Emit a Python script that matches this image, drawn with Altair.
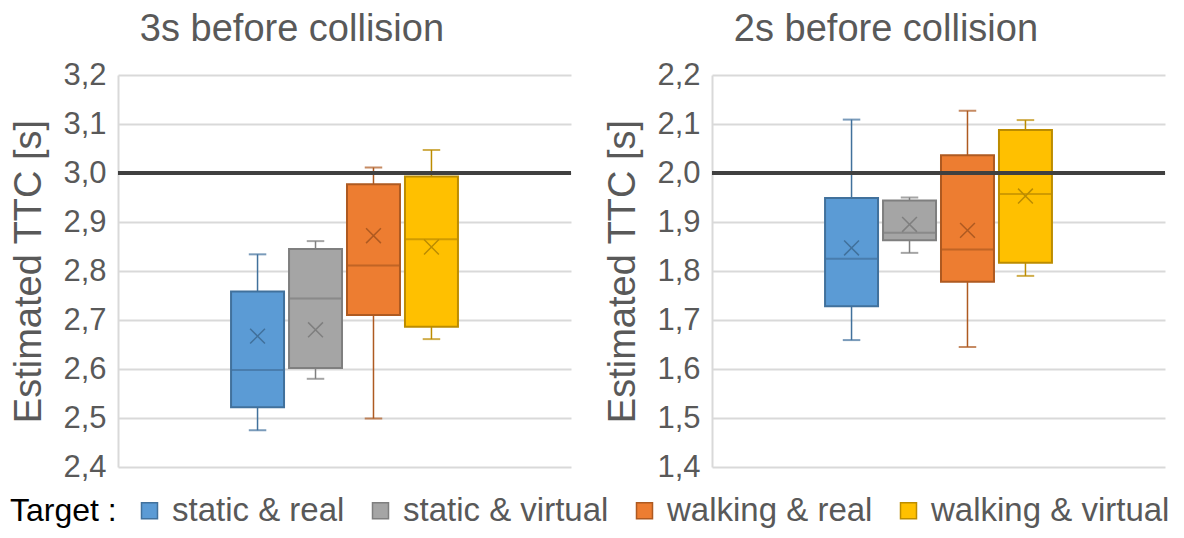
import altair as alt
import pandas as pd

targets = ["static & real", "static & virtual", "walking & real", "walking & virtual"]
slots = ["pad-left"] + targets + ["pad-right"]
fills = ["#5B9BD5", "#A5A5A5", "#ED7D31", "#FFC000"]
edges = ["#41719C", "#7F7F7F", "#AE5A21", "#BC8C00"]

# 3 s before collision
low_3 = [2.475, 2.580, 2.499, 2.661]
q1_3 = [2.522, 2.602, 2.710, 2.686]
med_3 = [2.598, 2.744, 2.811, 2.865]
q3_3 = [2.758, 2.845, 2.977, 2.993]
high_3 = [2.834, 2.861, 3.011, 3.047]
mean_3 = [2.667, 2.680, 2.872, 2.849]
ref_3 = 3.0
ticks_3 = [2.4, 2.5, 2.6, 2.7, 2.8, 2.9, 3.0, 3.1, 3.2]

# 2 s before collision
low_2 = [1.659, 1.837, 1.645, 1.790]
q1_2 = [1.728, 1.863, 1.778, 1.817]
med_2 = [1.825, 1.878, 1.844, 1.957]
q3_2 = [1.949, 1.944, 2.036, 2.088]
high_2 = [2.109, 1.950, 2.127, 2.108]
mean_2 = [1.847, 1.895, 1.883, 1.953]
ref_2 = 2.0
ticks_2 = [1.4, 1.5, 1.6, 1.7, 1.8, 1.9, 2.0, 2.1, 2.2]

FONT = "Liberation Sans"
TXT = "#595959"
W, H = 453, 392

legend = alt.Legend(
    title="Target :", orient="none", legendX=-108, legendY=419, padding=0,
    direction="horizontal", titleOrient="left", titleFont=FONT,
    titleFontSize=32, titleFontWeight="normal", titleColor="#000000",
    titlePadding=16, labelFont=FONT, labelFontSize=33, labelColor=TXT,
    labelLimit=400, symbolType="square", symbolSize=256, symbolOpacity=1,
    symbolStrokeWidth=1.5, columnPadding=19, labelOffset=6,
)

XSHAPE = "M-1,-1L1,1M-1,1L1,-1"


def panel(title, low, q1, med, q3, high, mean, ref, ticks):
    df = pd.DataFrame({"target": targets, "low": low, "q1": q1, "med": med,
                       "q3": q3, "high": high, "mean": mean})
    x = alt.X("target:N", sort=targets,
              scale=alt.Scale(domain=slots, paddingInner=0.086, paddingOuter=0.95),
              axis=None)
    yscale = alt.Scale(domain=[ticks[0], ticks[-1]], nice=False, zero=False)
    yaxis = alt.Axis(
        values=ticks, labelExpr="replace(format(datum.value, '.1f'), '.', ',')",
        title="Estimated TTC [s]", titleFont=FONT, titleFontSize=38,
        titleFontWeight="normal", titleColor=TXT, titlePadding=14,
        labelFont=FONT, labelFontSize=31, labelColor=TXT, labelPadding=12,
        ticks=False, domain=True, domainColor="#D9D9D9", domainWidth=2,
        grid=True, gridColor="#D9D9D9", gridWidth=2,
    )
    fill = alt.Fill("target:N", scale=alt.Scale(domain=targets, range=fills), legend=legend)
    stroke = alt.Stroke("target:N", scale=alt.Scale(domain=targets, range=edges), legend=legend)

    base = alt.Chart(df).encode(x=x)
    whisk = base.mark_rule(strokeWidth=1.5).encode(
        y=alt.Y("low:Q", scale=yscale, axis=yaxis), y2="high:Q", stroke=stroke)
    cap_lo = base.mark_tick(size=16, thickness=0.5, filled=False, strokeWidth=1.5).encode(
        y="low:Q", stroke=stroke)
    cap_hi = base.mark_tick(size=16, thickness=0.5, filled=False, strokeWidth=1.5).encode(
        y="high:Q", stroke=stroke)
    box = base.mark_bar(strokeWidth=2, opacity=1).encode(
        y="q1:Q", y2="q3:Q", fill=fill, stroke=stroke)
    median = base.mark_tick(size=51, thickness=0.5, filled=False, strokeWidth=1.5).encode(
        y="med:Q", stroke=stroke)
    mean_pt = base.mark_point(shape=XSHAPE, filled=False, size=220, strokeWidth=1.5,
                              opacity=1).encode(y="mean:Q", stroke=stroke)
    ref_line = alt.Chart(pd.DataFrame({"ref": [ref]})).mark_rule(
        color="#404040", strokeWidth=4).encode(y="ref:Q")

    return alt.layer(whisk, cap_lo, cap_hi, box, median, mean_pt, ref_line).properties(
        width=W, height=H,
        title=alt.TitleParams(title, anchor="middle", frame="bounds", font=FONT,
                              fontSize=38, fontWeight="normal", color=TXT, offset=10),
    )


left = panel("3s before collision", low_3, q1_3, med_3, q3_3, high_3, mean_3, ref_3, ticks_3)
right = panel("2s before collision", low_2, q1_2, med_2, q3_2, high_2, mean_2, ref_2, ticks_2)

chart = alt.hconcat(left, right, spacing=30).properties(
    padding={"left": 2, "top": 2, "right": 0, "bottom": 0}, background="white"
).configure_view(stroke="transparent")

chart.save("out.html", embed_options={"renderer": "svg", "actions": False})
